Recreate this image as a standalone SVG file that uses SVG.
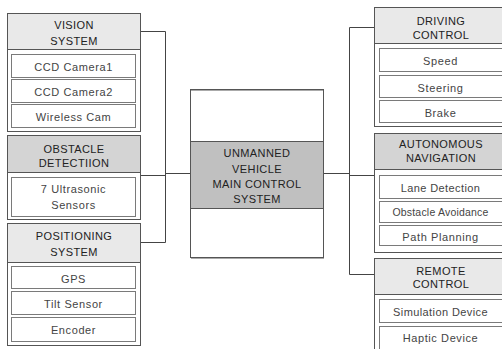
<svg xmlns="http://www.w3.org/2000/svg" width="502" height="349" viewBox="0 0 502 349">
<style>
.panel{fill:#fff;stroke:#555;stroke-width:1}
.hd1{fill:#e9e9e9;stroke:#555;stroke-width:1}
.hd2{fill:#d4d4d4;stroke:#555;stroke-width:1}
.sub{fill:#fff;stroke:#7a7a7a;stroke-width:1}
.ht{font-family:"Liberation Sans","DejaVu Sans",sans-serif;font-size:11px;fill:#222;text-anchor:middle;letter-spacing:0.4px}
.st{font-family:"Liberation Sans","DejaVu Sans",sans-serif;font-size:11px;fill:#444;text-anchor:middle;letter-spacing:0.6px}
.conn{fill:none;stroke:#444;stroke-width:1}
</style>
<rect width="502" height="349" fill="#fff"/>
<g id="connectors">
<path class="conn" d="M140.5 31.5 H165.5 V242.5 H140.5"/>
<path class="conn" d="M140 175.5 H166"/>
<path class="conn" d="M165 173.5 H190.5"/>
<path class="conn" d="M374.5 27.5 H349.5 V274.5 H374.5"/>
<path class="conn" d="M323.5 173.5 H349.5"/>
<path class="conn" d="M349 175.5 H374.5"/>
</g>
<g id="vision-system">
<rect class="panel" x="7.5" y="13.5" width="133" height="118"/>
<rect class="hd1" x="7.5" y="13.5" width="133" height="36"/>
<text class="ht" x="74" y="29.3">VISION</text>
<text class="ht" x="74" y="45">SYSTEM</text>
<rect class="sub" x="11.5" y="54.5" width="124" height="23"/>
<text class="st" x="73.5" y="71">CCD Camera1</text>
<rect class="sub" x="11.5" y="79.5" width="124" height="23"/>
<text class="st" x="73.5" y="96">CCD Camera2</text>
<rect class="sub" x="11.5" y="104.5" width="124" height="23"/>
<text class="st" x="73.5" y="121">Wireless Cam</text>
</g>
<g id="obstacle-detection">
<rect class="panel" x="7.5" y="135.5" width="133" height="84"/>
<rect class="hd2" x="7.5" y="135.5" width="133" height="37"/>
<text class="ht" x="74" y="153.3">OBSTACLE</text>
<text class="ht" x="74" y="167.3">DETECTIION</text>
<rect class="sub" x="11.5" y="177.5" width="124" height="39"/>
<text class="st" x="73.5" y="193">7 Ultrasonic</text>
<text class="st" x="73.5" y="209">Sensors</text>
</g>
<g id="positioning-system">
<rect class="panel" x="7.5" y="223.5" width="133" height="122"/>
<rect class="hd1" x="7.5" y="223.5" width="133" height="39"/>
<text class="ht" x="74" y="239.7">POSITIONING</text>
<text class="ht" x="74" y="256.3">SYSTEM</text>
<rect class="sub" x="11.5" y="266.5" width="124" height="22"/>
<text class="st" x="73.5" y="282.5">GPS</text>
<rect class="sub" x="11.5" y="291.5" width="124" height="23"/>
<text class="st" x="73.5" y="308">Tilt Sensor</text>
<rect class="sub" x="11.5" y="317.5" width="124" height="24"/>
<text class="st" x="73.5" y="333.5">Encoder</text>
</g>
<g id="main-control">
<rect x="190.5" y="89.5" width="133" height="168" fill="#fff" stroke="#555"/>
<line x1="191" y1="90.5" x2="323" y2="90.5" stroke="#aaa"/>
<rect x="190.5" y="141.5" width="133" height="67" fill="#c0c0c0" stroke="#555"/>
<line x1="191" y1="258.5" x2="324" y2="258.5" stroke="#aaa"/>
<text class="ht" x="257" y="157">UNMANNED</text>
<text class="ht" x="257" y="172.5">VEHICLE</text>
<text class="ht" x="257" y="187.5">MAIN CONTROL</text>
<text class="ht" x="257" y="202.5">SYSTEM</text>
</g>
<g id="driving-control">
<rect class="panel" x="374.5" y="7.5" width="133" height="119"/>
<rect class="hd1" x="374.5" y="7.5" width="133" height="36"/>
<text class="ht" x="441" y="24.8">DRIVING</text>
<text class="ht" x="441" y="38.7">CONTROL</text>
<rect class="sub" x="379.5" y="48.5" width="123" height="23"/>
<text class="st" x="440.5" y="65">Speed</text>
<rect class="sub" x="379.5" y="75.5" width="123" height="22"/>
<text class="st" x="440.5" y="91.5">Steering</text>
<rect class="sub" x="379.5" y="100.5" width="123" height="22"/>
<text class="st" x="440.5" y="116.5">Brake</text>
</g>
<g id="autonomous-navigation">
<rect class="panel" x="374.5" y="133.5" width="133" height="119"/>
<rect class="hd2" x="374.5" y="133.5" width="133" height="36"/>
<text class="ht" x="441" y="148.3">AUTONOMOUS</text>
<text class="ht" x="441" y="162.3">NAVIGATION</text>
<rect class="sub" x="379.5" y="175.5" width="123" height="23"/>
<text class="st" x="440.5" y="192" style="letter-spacing:0.4px">Lane Detection</text>
<rect class="sub" x="379.5" y="201.5" width="123" height="21"/>
<text class="st" x="440.5" y="215.5" style="font-size:10.5px;letter-spacing:0.2px">Obstacle Avoidance</text>
<rect class="sub" x="379.5" y="225.5" width="123" height="20"/>
<text class="st" x="440.5" y="240.5">Path Planning</text>
</g>
<g id="remote-control">
<rect class="panel" x="374.5" y="258.5" width="133" height="100"/>
<rect class="hd1" x="374.5" y="258.5" width="133" height="36"/>
<text class="ht" x="441" y="274.7">REMOTE</text>
<text class="ht" x="441" y="288.3">CONTROL</text>
<rect class="sub" x="379.5" y="299.5" width="123" height="23"/>
<text class="st" x="440.5" y="316" style="letter-spacing:0.4px">Simulation Device</text>
<rect class="sub" x="379.5" y="326.5" width="123" height="26"/>
<text class="st" x="440.5" y="341.5">Haptic Device</text>
</g>
</svg>
